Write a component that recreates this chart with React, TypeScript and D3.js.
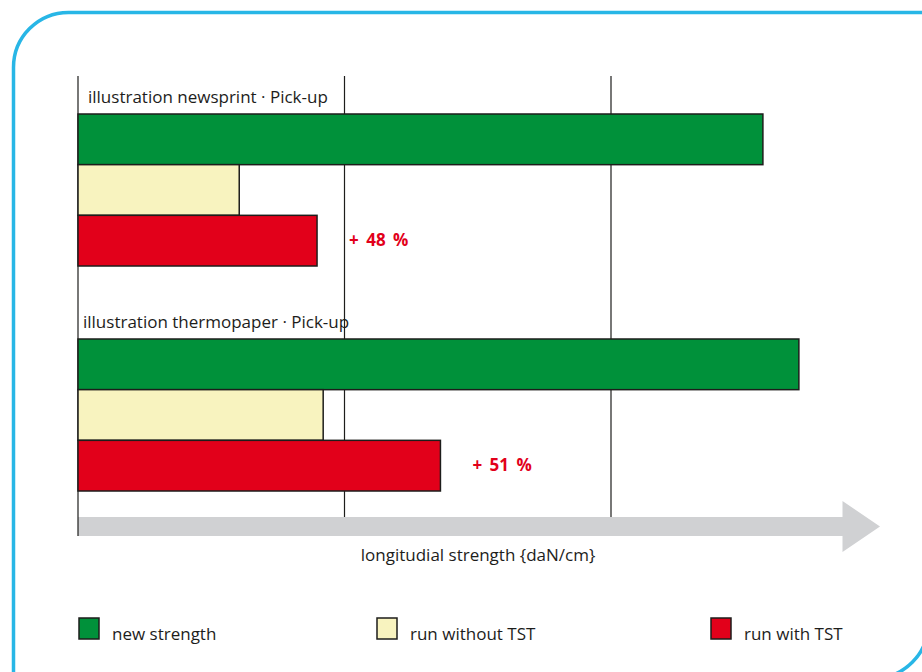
import React from "react";
import * as d3 from "d3";

// values in daN/cm
const groups = ["illustration newsprint · Pick-up", "illustration thermopaper · Pick-up"];
const series = ["new strength", "run without TST", "run with TST"];
const newStrength = [25.7, 27.05];
const runWithout = [6.05, 9.2];
const runWith = [8.97, 13.6];
const gains = ["+ 48 %", "+ 51 %"];
const gridTicks = [10, 20];

const colors = ["#00913a", "#f8f3bf", "#e2001a"];
const FONT = "'Open Sans', 'Noto Sans', sans-serif";

const W = 922;
const H = 672;

const App = () => {
    const x = d3.scaleLinear().domain([0, 30]).range([78, 877.5]);
    const yGroup = d3.scaleBand<string>().domain(groups).range([76, 526]);
    const yBar = d3.scaleBand<string>().domain(series).range([0, 152]);

    const values = [newStrength, runWithout, runWith];
    const gridBottom = 517;
    const arrowY = 526.5;

    const legendX = [79, 377, 711];

    // frame: only top-left and bottom-right corners are rounded
    const r = 55;
    const fL = 13.5, fT = 12.5, fR = 928.4, fB = 678.4;
    const frame = `M${fL},${fB} V${fT + r} A${r},${r} 0 0 1 ${fL + r},${fT} H${fR} V${fB - r} A${r},${r} 0 0 1 ${fR - r},${fB} Z`;

    return (
        <svg width={W} height={H} style={{ position: "absolute", left: 0, top: 0, background: "#fff" }}>
            <path d={frame} fill="none" stroke="#28b6e6" strokeWidth={3.5} />

            {/* arrow */}
            <path d={`M${x(0)},${arrowY - 9.5} H${x(30) - 35} V${arrowY - 25.5} L${x(30) + 2.5},${arrowY} L${x(30) - 35},${arrowY + 25.5} V${arrowY + 9.5} H${x(0)} Z`}
                fill="#d0d1d3" />

            {/* grid lines */}
            <line x1={x(0)} x2={x(0)} y1={76} y2={arrowY + 9.5} stroke="#1d1d1b" strokeWidth={1.2} />
            {gridTicks.map(t => (
                <line key={t} x1={x(t)} x2={x(t)} y1={76} y2={gridBottom} stroke="#1d1d1b" strokeWidth={1.2} />
            ))}

            {groups.map((g, gi) => {
                const top = (yGroup(g) as number) + 38;
                return (
                    <g key={g}>
                        <text x={gi === 0 ? 88 : 83} y={top - 11} fontFamily={FONT} fontSize={17} fill="#1d1d1b">{g}</text>
                        {series.map((s, si) => (
                            <rect key={s} x={x(0)} y={top + (yBar(s) as number)}
                                width={x(values[si][gi]) - x(0)} height={yBar.bandwidth()}
                                fill={colors[si]} stroke="#1d1d1b" strokeWidth={1.5} />
                        ))}
                        <text x={x(values[2][gi]) + 32} y={top + (yBar(series[2]) as number) + 31}
                            fontFamily={FONT} fontSize={17} fontWeight="bold" wordSpacing={3} fill="#e2001a">{gains[gi]}</text>
                    </g>
                );
            })}

            <text x={478} y={561} textAnchor="middle" fontFamily={FONT} fontSize={17} fill="#1d1d1b">
                longitudial strength {"{daN/cm}"}
            </text>

            {series.map((s, i) => (
                <g key={s}>
                    <rect x={legendX[i]} y={618} width={20} height={21} fill={colors[i]} stroke="#1d1d1b" strokeWidth={1.5} />
                    <text x={legendX[i] + 33} y={640} fontFamily={FONT} fontSize={17} fill="#1d1d1b">{s}</text>
                </g>
            ))}
        </svg>
    );
};

export default App;
